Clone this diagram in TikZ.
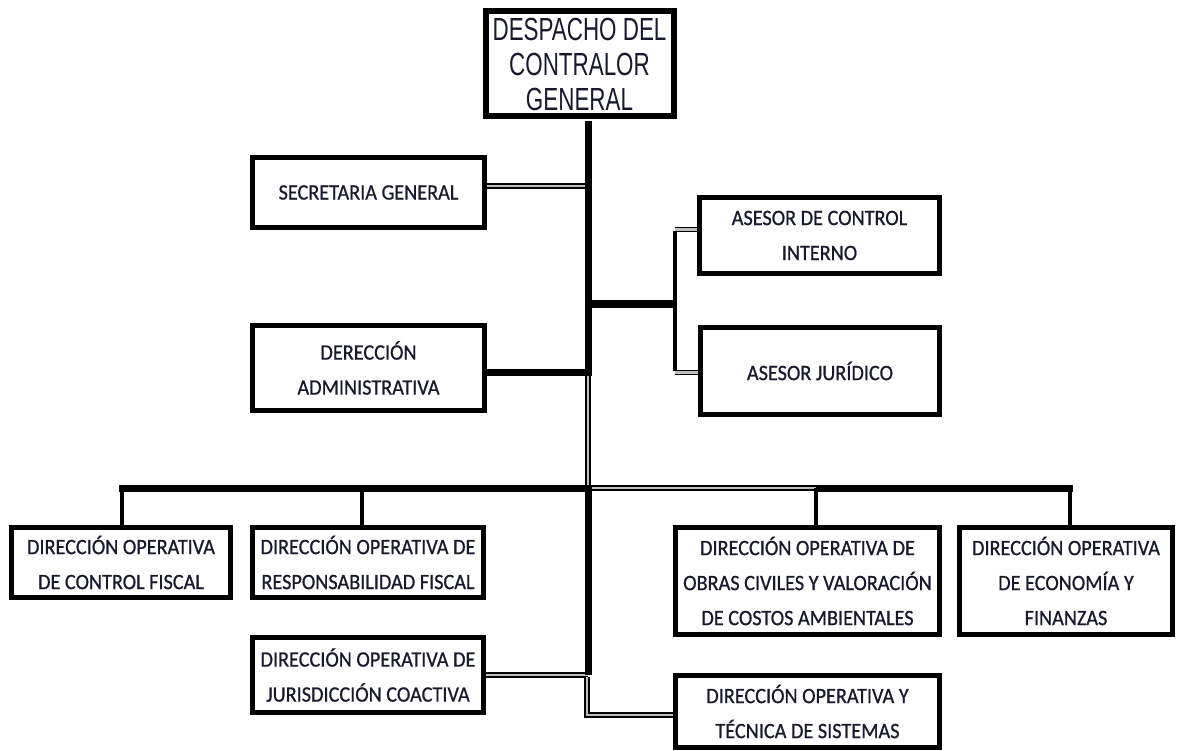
\documentclass[tikz,border=0pt]{standalone}
\usepackage{fontspec}
\setmainfont{Carlito}[FakeStretch=0.92, FakeBold=0.7]
\newfontfamily\narrowfont{Liberation Sans}[FakeStretch=0.70]
\definecolor{txt}{RGB}{25,25,45}
\definecolor{midgray}{RGB}{190,190,190}
\tikzset{
  box/.style={draw, line width=5pt, line join=miter, inner sep=0pt, align=center,
    font=\fontsize{22}{35}\selectfont, text=txt, fill=white},
  thk/.style={line width=7pt, draw=black},
  drop/.style={line width=3.5pt, draw=black},
  brk/.style={line width=4pt, draw=black},
  dbl/.style={draw=black, line width=1.6pt, double=midgray, double distance=2.2pt}
}
\begin{document}
\begin{tikzpicture}[x=1pt,y=-1pt]
\fill[white] (0,0) rectangle (1183,751);
\useasboundingbox (0,0) rectangle (1183,751);

% boxes
\node[box, line width=6pt, minimum width=188pt, minimum height=105pt,
  font=\narrowfont\fontsize{32}{35}\selectfont] (top) at (579.5,64) {\raisebox{-3pt}{DESPACHO DEL}\\\raisebox{-3pt}{CONTRALOR}\\\raisebox{-3pt}{GENERAL}};
\node[box, minimum width=232pt, minimum height=70pt] (sec) at (368.5,192.5) {SECRETARIA GENERAL};
\node[box, minimum width=240pt, minimum height=76pt] (ci) at (819.5,235.5) {ASESOR DE CONTROL\\INTERNO};
\node[box, minimum width=239pt, minimum height=87pt] (aj) at (820,371) {ASESOR JURÍDICO};
\node[box, minimum width=232pt, minimum height=85pt] (da) at (368.5,368) {DERECCIÓN\\ADMINISTRATIVA};
\node[box, minimum width=219pt, minimum height=70pt] (docf) at (121,562.5) {DIRECCIÓN OPERATIVA\\DE CONTROL FISCAL};
\node[box, minimum width=231pt, minimum height=70pt] (dorf) at (368,562.5) {DIRECCIÓN OPERATIVA DE\\RESPONSABILIDAD FISCAL};
\node[box, minimum width=264pt, minimum height=107pt] (dooc) at (807.5,581) {DIRECCIÓN OPERATIVA DE\\OBRAS CIVILES Y VALORACIÓN\\DE COSTOS AMBIENTALES};
\node[box, minimum width=213pt, minimum height=107pt] (doef) at (1066,581) {DIRECCIÓN OPERATIVA\\DE ECONOMÍA Y\\FINANZAS};
\node[box, minimum width=231pt, minimum height=75pt] (dojc) at (368,675) {DIRECCIÓN OPERATIVA DE\\JURISDICCIÓN COACTIVA};
\node[box, minimum width=264pt, minimum height=72pt] (dots) at (807.5,711.5) {DIRECCIÓN OPERATIVA Y\\TÉCNICA DE SISTEMAS};

% junction coordinates
\coordinate (jS) at (588,186);
\coordinate (m1) at (588,304);
\coordinate (m2) at (588,372);
\coordinate (bus) at (588,488);
\coordinate (m3) at (588,675);
\coordinate (m4) at (587,715);
\coordinate (bt) at (675,229.5);
\coordinate (bb) at (675,372.5);
\coordinate (busL) at (119,488);
\coordinate (d1) at (122,488);
\coordinate (d2) at (362,488);
\coordinate (d3) at (816,488);
\coordinate (d4) at (1070,488);
\coordinate (busR) at (1073,488);

% double connectors
\draw[dbl] (sec.east |- jS) -- (jS);
\draw[dbl] (bt) -- (ci.west |- bt);
\draw[dbl] (bb) -- (aj.west |- bb);
\draw[dbl] (m2) -- (bus);
\draw[dbl] (bus) -- (d3);
\draw[dbl] (dojc.east |- m3) -- (m3);
\draw[dbl] ([yshift=-2pt]m3 -| m4) -- (m4) -- (dots.west |- m4);

% thick connectors
\draw[thk] ([yshift=-2pt]top.south -| m1) -- ([yshift=3.5pt]m2);
\draw[thk] ([xshift=-3.5pt]m1) -- (m1 -| bt);
\draw[thk] (da.east |- m2) -- ([xshift=3.5pt]m2);
\draw[thk] ([xshift=3.5pt]bus) -- (busL);
\draw[thk] (d3) -- (busR);
\draw[thk] ([yshift=-3.5pt]bus) -- (m3);
\draw[brk] ([yshift=-1.5pt]bt) -- ([yshift=1.5pt]bb);

% drops
\draw[drop] (d1) -- (d1 |- docf.north);
\draw[drop] (d2) -- (d2 |- dorf.north);
\draw[drop] (d3) -- (d3 |- dooc.north);
\draw[drop] (d4) -- (d4 |- doef.north);
\end{tikzpicture}
\end{document}
